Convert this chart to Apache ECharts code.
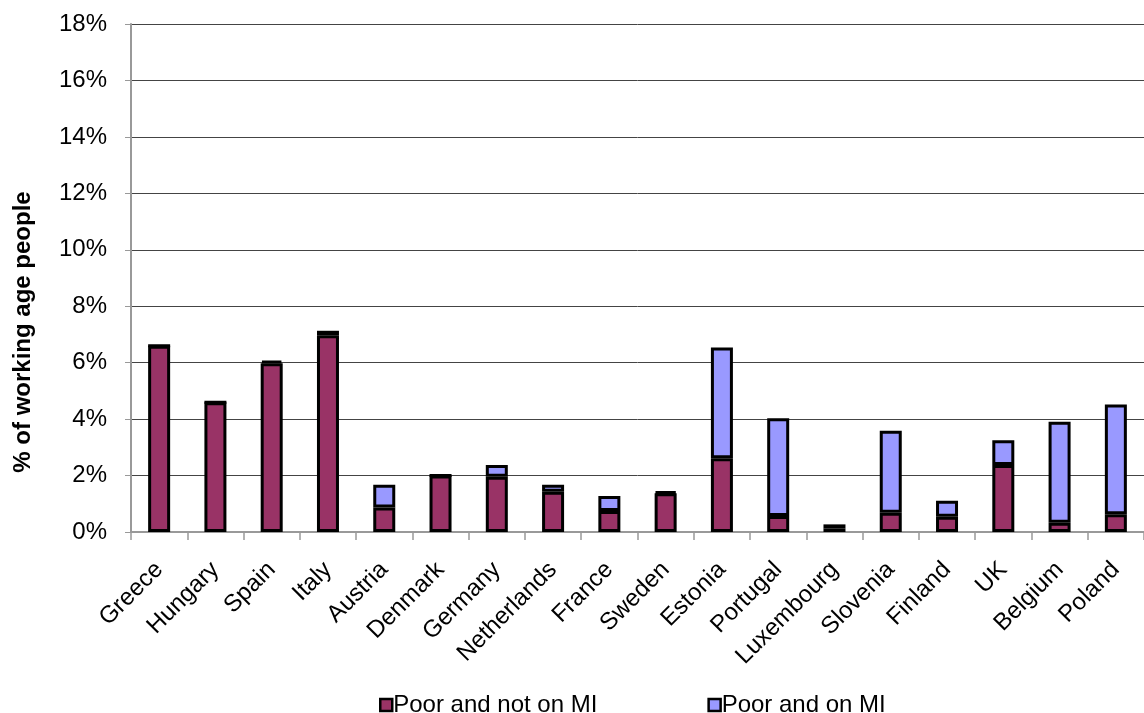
<!DOCTYPE html>
<html><head><meta charset="utf-8">
<script src="https://cdn.jsdelivr.net/npm/echarts@6/dist/echarts.min.js"></script>
<style>html,body{margin:0;padding:0;background:#fff}#c{width:1144px;height:713px}</style>
</head><body><div id="c"></div>
<script>
var categories = ["Greece","Hungary","Spain","Italy","Austria","Denmark","Germany","Netherlands","France","Sweden","Estonia","Portugal","Luxembourg","Slovenia","Finland","UK","Belgium","Poland"];
var notOnMI = [6.6,4.6,5.98,6.97,0.87,2.0,1.96,1.43,0.74,1.37,2.61,0.57,0.13,0.68,0.54,2.37,0.33,0.63];
var onMI    = [0,0,0.09,0.16,0.8,0,0.41,0.24,0.54,0.06,3.93,3.46,0.14,2.91,0.57,0.88,3.58,3.89];
var yTicks = [0,2,4,6,8,10,12,14,16,18];

var chart = echarts.init(document.getElementById('c'));
var font = 'Liberation Sans, Arial, sans-serif';
chart.setOption({
  animation:false,
  textStyle:{fontFamily:font},
  grid:{left:131,right:0,top:24,bottom:181},
  legend:{
    top:688, left:374, itemGap:110, itemWidth:12, itemHeight:12,
    textStyle:{fontSize:24,color:'#000',fontFamily:font,padding:[0,0,0,-4]},
    itemStyle:{borderColor:'#000',borderWidth:2.5},
    data:[{name:'Poor and not on MI',icon:'rect'},{name:'Poor and on MI',icon:'rect'}]
  },
  xAxis:{
    type:'category', data:categories, boundaryGap:true,
    axisLine:{lineStyle:{color:'#999',width:2}},
    axisTick:{show:true,interval:0,length:8,lineStyle:{color:'#999',width:1.5}},
    axisLabel:{interval:0,rotate:45,fontSize:24,color:'#000',fontFamily:font,margin:34}
  },
  yAxis:{
    type:'value', min:0, max:18, interval:2,
    axisLine:{show:true,lineStyle:{color:'#999',width:2}},
    axisTick:{show:true,length:6,inside:false,lineStyle:{color:'#999'}},
    splitLine:{lineStyle:{color:'#444',width:1}},
    axisLabel:{fontSize:24,color:'#000',fontFamily:font,margin:24,
      formatter:function(v){return yTicks.indexOf(v)>=0? v+'%':'';}}
  },
  graphic:[{type:'text',x:23,y:332,rotation:Math.PI/2,
    style:{text:'% of working age people',font:'bold 24px '+font,fill:'#000',
      textAlign:'center',textVerticalAlign:'middle'}}],
  series:[
    {name:'Poor and not on MI',type:'bar',stack:'s',data:notOnMI,barWidth:22,
     itemStyle:{color:'#993366',borderColor:'#000',borderWidth:3}},
    {name:'Poor and on MI',type:'bar',stack:'s',data:onMI,barWidth:22,
     itemStyle:{color:'#9999FF',borderColor:'#000',borderWidth:3}}
  ]
});
</script></body></html>
